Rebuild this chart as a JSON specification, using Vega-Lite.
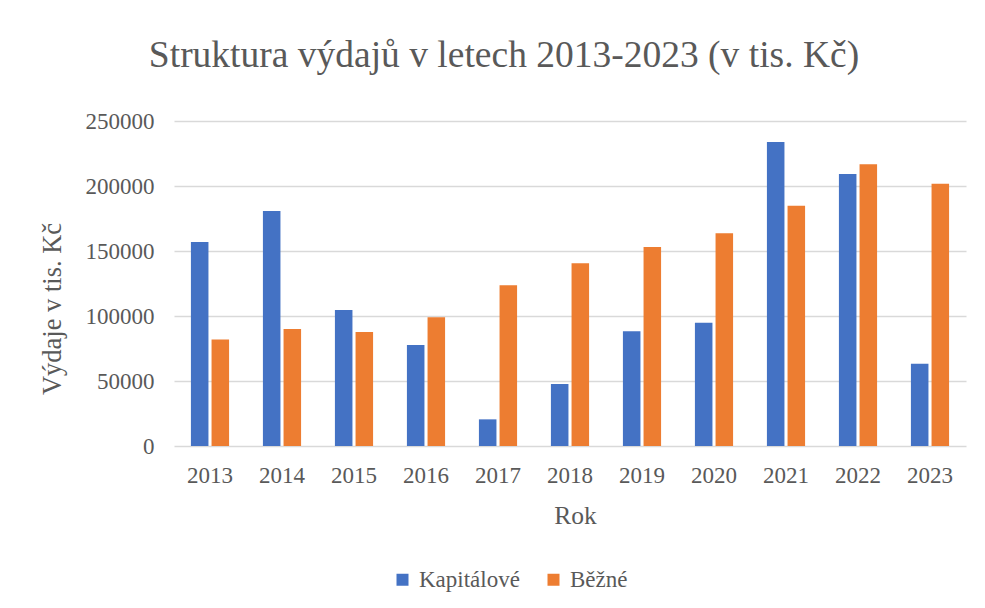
{
  "$schema": "https://vega.github.io/schema/vega-lite/v6.json",
  "autosize": {"type": "none"},
  "padding": {"left": 174, "top": 121, "right": 19, "bottom": 162},
  "width": 792,
  "height": 325,
  "background": "white",
  "title": {
    "text": "Struktura výdajů v letech 2013-2023 (v tis. Kč)",
    "font": "Liberation Serif, serif",
    "fontSize": 37.5,
    "fontWeight": "normal",
    "color": "#595959",
    "anchor": "middle",
    "dx": -66,
    "offset": 36
  },
  "data": {
    "values": [
      {"rok": "2013", "typ": "Kapitálové", "hodnota": 157000},
      {"rok": "2013", "typ": "Běžné", "hodnota": 82000},
      {"rok": "2014", "typ": "Kapitálové", "hodnota": 180800},
      {"rok": "2014", "typ": "Běžné", "hodnota": 90000},
      {"rok": "2015", "typ": "Kapitálové", "hodnota": 104600},
      {"rok": "2015", "typ": "Běžné", "hodnota": 87700},
      {"rok": "2016", "typ": "Kapitálové", "hodnota": 77700},
      {"rok": "2016", "typ": "Běžné", "hodnota": 99000},
      {"rok": "2017", "typ": "Kapitálové", "hodnota": 20500},
      {"rok": "2017", "typ": "Běžné", "hodnota": 123600},
      {"rok": "2018", "typ": "Kapitálové", "hodnota": 47700},
      {"rok": "2018", "typ": "Běžné", "hodnota": 140500},
      {"rok": "2019", "typ": "Kapitálové", "hodnota": 88200},
      {"rok": "2019", "typ": "Běžné", "hodnota": 153000},
      {"rok": "2020", "typ": "Kapitálové", "hodnota": 94900},
      {"rok": "2020", "typ": "Běžné", "hodnota": 163600},
      {"rok": "2021", "typ": "Kapitálové", "hodnota": 233800},
      {"rok": "2021", "typ": "Běžné", "hodnota": 184900},
      {"rok": "2022", "typ": "Kapitálové", "hodnota": 209200},
      {"rok": "2022", "typ": "Běžné", "hodnota": 216700},
      {"rok": "2023", "typ": "Kapitálové", "hodnota": 63300},
      {"rok": "2023", "typ": "Běžné", "hodnota": 201800}
    ]
  },
  "mark": {"type": "bar"},
  "encoding": {
    "x": {
      "field": "rok",
      "type": "nominal",
      "scale": {"paddingInner": 0.47, "paddingOuter": 0.235},
      "axis": {
        "title": "Rok",
        "titleFont": "Liberation Serif, serif",
        "titleFontSize": 25.5,
        "titleFontWeight": "normal",
        "titleColor": "#595959",
        "titleX": 401,
        "titleY": 77,
        "titleBaseline": "alphabetic",
        "labelFont": "Liberation Serif, serif",
        "labelFontSize": 23,
        "labelColor": "#595959",
        "labelAngle": 0,
        "labelPadding": 18,
        "ticks": false,
        "tickSize": 0,
        "domain": false,
        "grid": false
      }
    },
    "xOffset": {
      "field": "typ",
      "type": "nominal",
      "sort": ["Kapitálové", "Běžné"],
      "scale": {"paddingInner": 0.15, "paddingOuter": 0}
    },
    "y": {
      "field": "hodnota",
      "type": "quantitative",
      "scale": {"domain": [0, 250000], "nice": false},
      "axis": {
        "title": "Výdaje v tis. Kč",
        "titleFont": "Liberation Serif, serif",
        "titleFontSize": 26.5,
        "titleFontWeight": "normal",
        "titleColor": "#595959",
        "titleAngle": -90,
        "titleAlign": "center",
        "titleBaseline": "middle",
        "titleX": -122,
        "titleY": 187.5,
        "values": [0, 50000, 100000, 150000, 200000, 250000],
        "format": "d",
        "labelFont": "Liberation Serif, serif",
        "labelFontSize": 23,
        "labelColor": "#595959",
        "labelPadding": 20,
        "ticks": false,
        "tickSize": 0,
        "domain": false,
        "grid": true,
        "gridColor": "#d9d9d9",
        "gridWidth": 1.5
      }
    },
    "color": {
      "field": "typ",
      "type": "nominal",
      "sort": ["Kapitálové", "Běžné"],
      "scale": {"domain": ["Kapitálové", "Běžné"], "range": ["#4472C4", "#ED7D31"]},
      "legend": {
        "title": null,
        "orient": "none",
        "direction": "horizontal",
        "legendX": 217,
        "legendY": 447,
        "symbolType": "square",
        "symbolSize": 144,
        "symbolStrokeWidth": 0,
        "symbolOpacity": 1,
        "labelFont": "Liberation Serif, serif",
        "labelFontSize": 23,
        "labelColor": "#595959",
        "labelOffset": 5,
        "columnPadding": 22
      }
    }
  },
  "config": {
    "font": "Liberation Serif, serif",
    "view": {"stroke": null}
  }
}
